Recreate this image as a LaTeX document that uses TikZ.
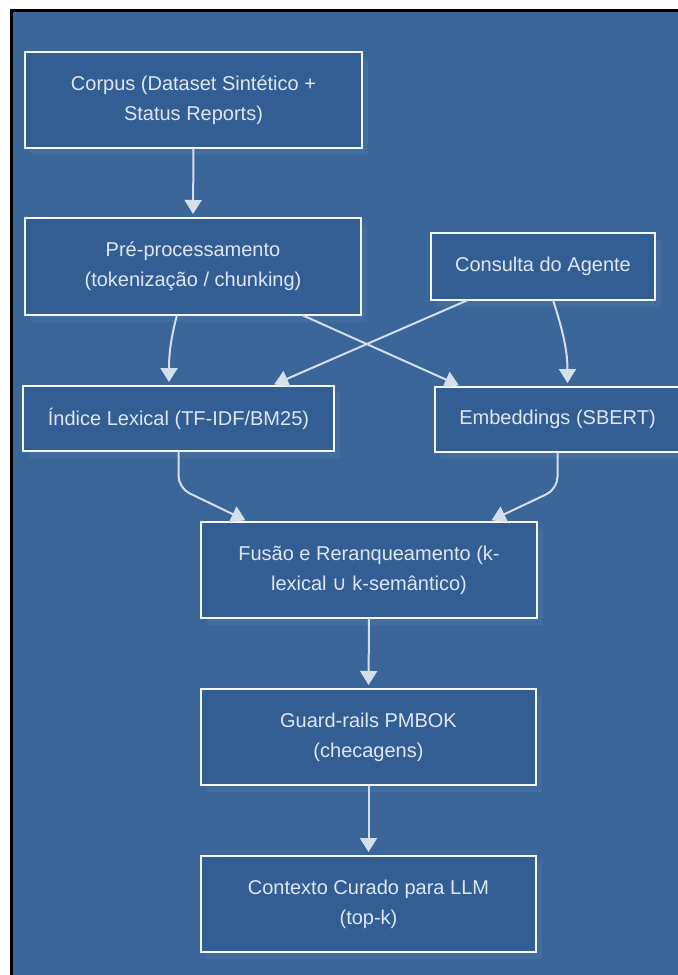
\documentclass[tikz,border=0pt]{standalone}
\usepackage{fontspec}
\setmainfont{Liberation Sans}
\newfontfamily\symfont{DejaVu Sans}
\usetikzlibrary{arrows.meta,calc,shadows}
\definecolor{bgblue}{RGB}{59,102,153}
\definecolor{boxblue}{RGB}{51,94,147}
\definecolor{shadowblue}{RGB}{67,109,159}
\definecolor{txtcol}{RGB}{222,230,241}
\definecolor{arrowcol}{RGB}{214,222,234}
\definecolor{edgecol}{RGB}{245,247,250}
\begin{document}
\begin{tikzpicture}[x=0.75pt,y=-0.75pt,
 box/.style={draw=edgecol, line width=1.5pt, fill=boxblue, text=txtcol, align=center,
   inner sep=0pt, outer sep=0pt, font=\fontsize{15pt}{22.5pt}\selectfont,
   drop shadow={shadow xshift=4.5pt, shadow yshift=-5pt, fill=shadowblue, opacity=1}},
 conn/.style={draw=arrowcol, line width=1.5pt, -{Triangle[length=10.5pt,width=12.75pt]}, shorten >=3pt}]
\useasboundingbox (0,0) rectangle (678,975);
\fill[white] (0,0) rectangle (678,975);
\fill[black] (10,8.5) rectangle (678,975);
\fill[bgblue] (13,11.5) rectangle (678,975);

\node[box, minimum width=252.75pt, minimum height=72pt] (corpus) at (193.5,100) {Corpus (Dataset Sintético +\\Status Reports)};
\node[box, minimum width=252pt, minimum height=72.75pt] (pre) at (193,266.5) {Pré-processamento\\(tokenização / chunking)};
\node[box, minimum width=168pt, minimum height=50.25pt] (consulta) at (543,266.5) {Consulta do Agente};
\node[box, minimum width=233.25pt, minimum height=48.75pt] (indice) at (178.5,418.5) {Índice Lexical (TF-IDF/BM25)};
\node[box, minimum width=183.75pt, minimum height=48.75pt] (emb) at (557.5,419.5) {Embeddings (SBERT)};
\node[box, minimum width=252pt, minimum height=72pt] (fusao) at (369,570) {Fusão e Reranqueamento (k-\\lexical {\symfont ∪} k-semântico)};
\node[box, minimum width=251.25pt, minimum height=72pt] (guard) at (368.5,737) {Guard-rails PMBOK\\(checagens)};
\node[box, minimum width=251.25pt, minimum height=72pt] (contexto) at (368.5,904) {Contexto Curado para LLM\\(top-k)};

\coordinate (c1) at ($(indice.south)+(0,37)$);
\coordinate (c2) at ($(emb.south)+(0,37)$);

\draw[conn] (corpus.south) -- (pre.north);
\draw[conn] ($(pre.south)+(-16,0)$) to[out=-105,in=90] ($(indice.north)+(-9.5,0)$);
\draw[conn] ($(pre.south)+(109,0)$) -- ($(emb.north)+(-95,0)$);
\draw[conn] ($(consulta.south)+(-75,0)$) -- ($(indice.north)+(92,0)$);
\draw[conn] ($(consulta.south)+(10,0)$) to[out=-72,in=90] ($(emb.north)+(10,0)$);
\draw[conn, rounded corners=9pt] (indice.south) -- (c1) -- ($(fusao.north)+(-120,0)$);
\draw[conn, rounded corners=9pt] (emb.south) -- (c2) -- ($(fusao.north)+(119,0)$);
\draw[conn] (fusao.south) -- (guard.north);
\draw[conn] (guard.south) -- (contexto.north);
\end{tikzpicture}
\end{document}
